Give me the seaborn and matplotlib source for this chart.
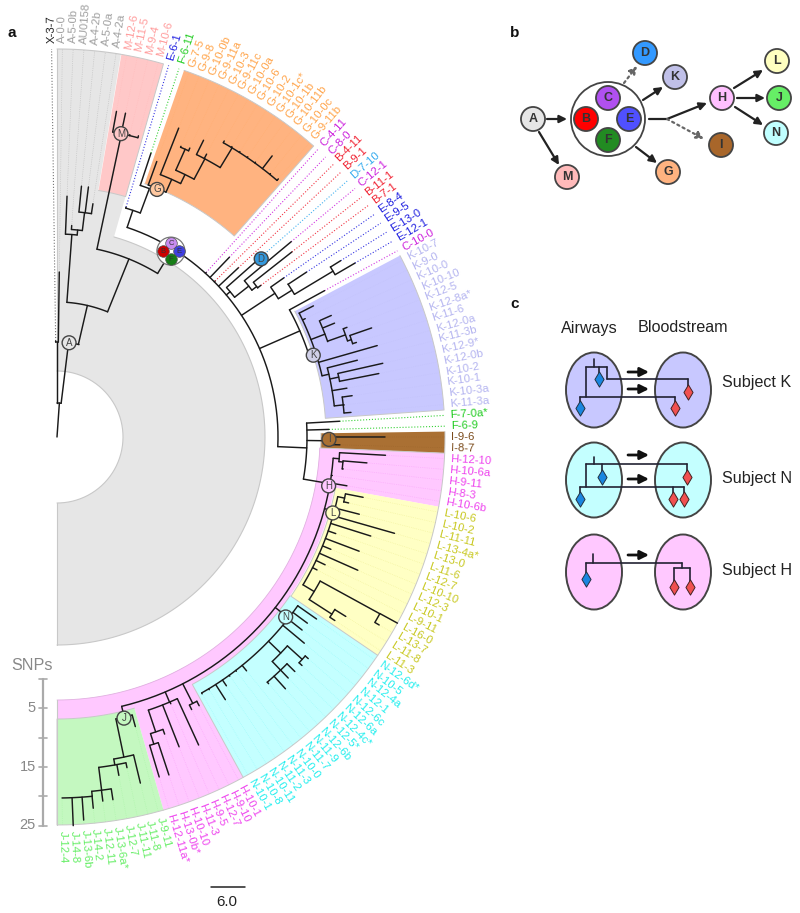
import numpy as np
import pandas as pd
import seaborn as sns
import matplotlib.pyplot as plt
from matplotlib.patches import Ellipse

# panel a: tips run clockwise from 12 o'clock
LABELS = ['X-3-7', 'A-0-0', 'A-5-0b', 'AU0158', 'A-4-2b', 'A-5-0a', 'A-4-2a',
          'M-12-6', 'M-11-5', 'M-9-4', 'M-10-6', 'E-6-1', 'F-6-11',
          'G-7-5', 'G-9-8', 'G-10-0b', 'G-9-11a', 'G-10-3', 'G-9-11c', 'G-10-0a',
          'G-10-6', 'G-10-2', 'G-10-1c*', 'G-10-1b', 'G-10-11b', 'G-10-0c', 'G-9-11b',
          'C-4-11', 'C-8-0', 'B-4-11', 'B-9-1', 'D-7-10', 'C-12-1', 'B-11-1', 'B-7-1',
          'E-8-4', 'E-9-5', 'E-13-0', 'E-12-1', 'C-10-0',
          'K-10-7', 'K-9-0', 'K-10-0', 'K-10-10', 'K-12-5', 'K-12-8a*', 'K-11-6', 'K-12-0a',
          'K-11-3b', 'K-12-9*', 'K-12-0b', 'K-10-2', 'K-10-1', 'K-10-3a', 'K-11-3a',
          'F-7-0a*', 'F-6-9', 'I-9-6', 'I-8-7',
          'H-12-10', 'H-10-6a', 'H-9-11', 'H-8-3', 'H-10-6b',
          'L-10-6', 'L-10-2', 'L-11-11', 'L-13-4a*', 'L-13-0', 'L-11-6', 'L-12-7', 'L-10-10',
          'L-12-3', 'L-10-1', 'L-9-11', 'L-16-0', 'L-13-7', 'L-11-8', 'L-11-3',
          'N-12-6d*', 'N-10-5', 'N-12-4a', 'N-12-1', 'N-12-6c', 'N-12-6a', 'N-12-4c*', 'N-12-5*',
          'N-12-6b', 'N-11-9', 'N-11-7', 'N-10-0', 'N-11-3', 'N-11-2', 'N-10-11', 'N-10-8', 'N-10-1',
          'H-10-1', 'H-9-10', 'H-12-7', 'H-9-5', 'H-11-3', 'H-10-10', 'H-13-0b*', 'H-12-11a*',
          'J-9-11', 'J-11-8', 'J-11-11', 'J-12-7', 'J-13-6a*', 'J-12-11', 'J-14-2', 'J-13-6b',
          'J-14-8', 'J-12-4']

# radius where each tip branch starts and ends
TIP_BASE = [95, 95, 203, 208, 226, 226, 226, 310, 310, 310, 310, 239, 265, 268, 282, 315, 315, 315, 315,
            338, 338, 338, 338, 338, 338, 338, 338, 221, 221, 221, 221, 226, 244, 250, 250, 261, 277, 322, 322,
            265, 272, 272, 288, 288, 306, 310, 310, 272, 279, 288, 288, 279, 288, 288, 288, 250, 250, 276, 276,
            283, 287, 287, 277, 277, 294, 294, 287, 287, 287, 287, 287, 287, 287, 287, 287, 368, 368, 327, 327,
            294, 294, 294, 294, 331, 331, 323, 323, 323, 323, 294, 294, 294, 294, 294, 294, 294,
            299, 299, 288, 288, 288, 311, 322, 322, 288, 327, 333, 333, 356, 356, 361, 361, 361, 361]
TIP_END = [96, 165, 241, 212, 252, 252, 236, 331, 331, 311, 312, 240, 299, 293, 332, 316, 318, 331, 320,
           340, 339, 339, 339, 339, 354, 339, 340, 222, 249, 222, 248, 271, 305, 299, 254, 277, 299, 334, 345,
           305, 288, 275, 300, 300, 310, 333, 314, 333, 310, 334, 328, 294, 298, 289, 295, 283, 272, 328, 283,
           329, 311, 288, 278, 294, 312, 299, 312, 351, 329, 295, 323, 296, 329, 297, 292, 388, 373, 340, 333,
           317, 312, 312, 322, 335, 335, 334, 334, 340, 325, 301, 295, 295, 301, 312, 295, 295,
           304, 304, 339, 290, 333, 316, 356, 355, 300, 356, 338, 344, 367, 367, 373, 384, 389, 361]

# inner branches: angle, radius in, radius out
STEMS = [(4, 0, 34), (0, 34, 95), (7, 34, 95), (13, 95, 135), (4.2, 135, 203), (5.7, 203, 208), (7, 208, 226),
         (22, 135, 192), (12, 192, 310), (31.6, 192, 221), (18.5, 221, 239), (20.4, 239, 265), (22, 265, 268),
         (24, 268, 282), (26, 282, 292), (24, 292, 315), (28, 292, 315), (31.2, 315, 338), (50, 221, 226),
         (51.8, 226, 244), (53, 244, 250), (56.6, 221, 261), (58, 261, 277), (59, 277, 322), (66.4, 221, 265),
         (72.3, 265, 272), (69, 272, 287), (70.5, 287, 306), (71.7, 306, 310), (77, 272, 279), (78, 279, 288),
         (83.6, 279, 288), (92.5, 221, 250), (90.8, 250, 276), (99.7, 250, 277), (94.4, 277, 283), (95, 283, 287),
         (105, 277, 287), (102, 287, 294), (121, 287, 300), (118.7, 300, 368), (122.8, 300, 327), (128, 277, 294),
         (134, 294, 311), (132.2, 311, 331), (136.2, 311, 323), (153, 277, 299), (157, 277, 288), (161.5, 288, 311),
         (162.5, 311, 322), (166.5, 277, 288), (168.2, 288, 327), (170, 327, 333), (172.8, 333, 356), (174.4, 356, 361)]

# arcs joining branches: radius, angle from, angle to
ARCS = [(34, 0, 7), (95, -0.8, 0.8), (95, 7, 13.4), (135, 4.2, 22), (203, 2.4, 5.7), (208, 4, 7), (226, 5.6, 8.8),
        (192, 12, 31.6), (310, 10.35, 15.1), (221, 18.5, 92.5), (239, 16.7, 20.4), (265, 18.3, 22), (268, 19.9, 24),
        (282, 21.5, 26), (292, 24, 28), (315, 23.1, 24.7), (315, 26.3, 31.2), (338, 29.5, 40.6), (226, 48.7, 51.8),
        (244, 50.2, 53), (250, 51.8, 53.4), (261, 55.1, 58), (277, 56.5, 59), (322, 58.1, 59.7), (265, 61.3, 72.3),
        (272, 62.9, 77), (287, 66.1, 70.6), (306, 69.3, 71.7), (310, 70.9, 72.5), (279, 75.7, 83.6), (288, 77.3, 78.9),
        (288, 82, 85.2), (250, 86.8, 99.7), (276, 90, 91.6), (277, 94.4, 166.5), (283, 93.2, 95), (287, 94.8, 96.4),
        (287, 102, 121), (294, 101.2, 102.8), (300, 118.7, 122.8), (368, 118.7, 120.2), (327, 121.8, 123.4),
        (294, 125, 150.5), (311, 132.2, 136.2), (331, 131.4, 133), (323, 134.6, 139.4), (299, 152.1, 153.7),
        (288, 155.3, 161.5), (311, 160.1, 162.5), (322, 161.7, 163.3), (288, 164.9, 168.2), (327, 166.5, 170),
        (333, 168.1, 172.8), (356, 171.3, 174.4), (361, 174.4, 179.2)]

# shaded clades: first tip, last tip, inner radius, radius the outline starts at, colour
CLADES = [(7, 10, 250, 250, '#ffc8c8'), (13, 26, 268, 268, '#ffb380'), (40, 54, 269, 269, '#c8c8ff'),
          (57, 58, 264, 264, '#aa7033'), (59, 63, 263, 282, '#ffc8ff'), (64, 78, 283, 283, '#ffffc4'),
          (79, 95, 282, 282, '#c4ffff'), (96, 103, 263, 282, '#ffc8ff'), (104, 113, 282, 282, '#c4f8c0')]

# clade node markers: letter, angle, radius, colour
NODE_NAMES = ['A', 'M', 'G', 'D', 'K', 'I', 'H', 'L', 'N', 'J']
NODE_ANGLE = [7.3, 11.9, 22, 48.9, 72.3, 90.5, 100.2, 105.4, 128.2, 166.6]
NODE_RADIUS = [95, 310, 267, 271, 269, 272, 276, 286, 291, 289]
NODE_FILL = ['#e6e6e6', '#ffc8c8', '#ffc8a0', '#3399dd', '#d0d0e8', '#aa7033', '#ffc8ff', '#ffffc4', '#c4ffff', '#c4f8c0']

TEXT_COLOURS = {'X': '#222222', 'A': '#a0a0a0', 'M': '#ff9c9c', 'E': '#2020e0', 'F': '#22cc22', 'G': '#ffa348',
                'C': '#cc22dd', 'B': '#f02030', 'D': '#33aaee', 'K': '#b4b4f0', 'I': '#7a4a1a', 'H': '#ee44ee',
                'L': '#c8c820', 'N': '#22eeee', 'J': '#66ee66'}

SNP_TICKS = [0, 5, 10, 15, 20, 25]

# panel b
B_NAMES = ['A', 'M', 'C', 'B', 'E', 'F', 'D', 'K', 'G', 'H', 'I', 'L', 'J', 'N']
B_X = [533, 567, 608, 586, 629, 608, 645, 675, 668, 722, 721, 777, 779, 776]
B_Y = [119, 177, 98, 119, 119, 140, 53, 77, 172, 98, 145, 61, 98, 133]
B_FILL = ['#e6e6e6', '#ffbaba', '#b050f0', '#ff0000', '#5050ff', '#228b22', '#3399ff', '#c0c0e8', '#ffb380',
          '#ffc0ff', '#a8662a', '#ffffc0', '#66ee66', '#c0ffff']
B_ARROWS = [(547, 119, 567, 119, '-'), (539, 132, 559, 165, '-'), (624, 83, 637, 66, ':'), (643, 100, 663, 87, '-'),
            (636, 147, 657, 163, '-'), (667, 119, 707, 103, '-'), (667, 119, 704, 139, ':'), (734, 88, 763, 70, '-'),
            (737, 98, 765, 98, '-'), (735, 107, 763, 125, '-')]

# panel c
SUBJECTS = ['Subject K', 'Subject N', 'Subject H']
SUBJECT_Y = [390, 480, 572]
SUBJECT_TEXT_Y = [382, 479, 571]
SUBJECT_FILL = ['#c8c8ff', '#c4ffff', '#ffc8ff']
C_ARROW_Y = [372, 389, 455, 479, 555]
C_LINES = [(594, 359, 594, 367), (586, 367, 607, 367), (586, 367, 586, 397), (607, 367, 607, 379), (607, 379, 688, 379),
           (688, 379, 688, 387), (580, 397, 675, 397), (580, 397, 580, 403), (675, 397, 675, 403), (599, 367, 599, 373),
           (594, 457, 594, 464), (586, 464, 687, 464), (586, 464, 586, 487), (580, 487, 684, 487), (602, 464, 602, 472),
           (687, 464, 687, 472), (580, 487, 580, 493), (673, 487, 673, 493), (684, 487, 684, 493),
           (593, 554, 593, 563), (586, 563, 682, 563), (586, 563, 586, 573), (682, 563, 682, 568), (674, 568, 690, 568),
           (674, 568, 674, 582), (690, 568, 690, 582)]
BLUE_X = [599, 580, 602, 580, 586]
BLUE_Y = [379, 408, 477, 499, 579]
RED_X = [688, 675, 687, 673, 684, 674, 690]
RED_Y = [392, 408, 477, 499, 499, 587, 587]

CX, CY, R = 57, 437, 388
STEP = 180 / 113


def polar(theta, r):
    t = np.radians(theta)
    return CX + r * np.sin(t), CY - r * np.cos(t)


def tip_angle(i):
    return -0.8 + STEP * i


def sector(t0, t1, r0, r1):
    t = np.linspace(t0, t1, 80)
    x0, y0 = polar(t, r0)
    x1, y1 = polar(t[::-1], r1)
    return np.r_[x0, x1], np.r_[y0, y1]


sns.set_theme(style='white')
plt.rcParams['font.family'] = ['Liberation Sans', 'DejaVu Sans']

fig = plt.figure(figsize=(8, 9.13), dpi=100)
ax = fig.add_axes([0, 0, 1, 1])

# A clade background
edge = '#c8c8c8'
for t1, r1 in [(180, 208), (15.9, 250), (9.48, R)]:
    x, y = sector(0, t1, 66, r1)
    ax.fill(x, y, color='#e6e6e6', lw=0, zorder=1)
x, y = polar(np.linspace(0, 180, 200), 66)
ax.plot(x, y, color=edge, lw=0.8, zorder=1.2)
x, y = polar(np.linspace(15.9, 180, 200), 208)
ax.plot(x, y, color=edge, lw=0.8, zorder=1.2)
x, y = polar(np.linspace(0, 9.48, 30), R)
ax.plot(x, y, color=edge, lw=0.8, zorder=1.2)
ax.plot([CX, CX], [CY - R, CY - 66], color=edge, lw=0.8, zorder=1.2)
ax.plot([CX, CX], [CY + 66, CY + 208], color=edge, lw=0.8, zorder=1.2)

# band under H, then the other clades
x, y = sector(tip_angle(58.5), 180, 263, 282)
ax.fill(x, y, color='#ffc8ff', lw=0, zorder=1.1)
x, y = polar(np.linspace(tip_angle(58.5), 180, 200), 263)
ax.plot(x, y, color='#e0b0e0', lw=0.6, zorder=1.4)
for first, last, r0, r_line, colour in CLADES:
    x, y = sector(tip_angle(first - 0.5), tip_angle(last + 0.5), r0, R)
    ax.fill(x, y, color=colour, lw=0, zorder=1.3)
    x, y = sector(tip_angle(first - 0.5), tip_angle(last + 0.5), r_line, R)
    if r_line != r0:
        # side and outer edges only, the pink runs on into the band
        x, y = x[80:], y[80:]
    ax.plot(x, y, color=edge, lw=0.7, zorder=1.4)
ax.plot([CX, CX], [CY + 263, CY + R], color=edge, lw=0.8, zorder=1.4)

# dotted leader lines and tip labels
free = [0, 11, 12] + list(range(27, 40)) + [55, 56]
for i, name in enumerate(LABELS):
    t = tip_angle(i)
    colour = TEXT_COLOURS[name[0]]
    x, y = polar(t, np.array([TIP_END[i], R]))
    if i in free:
        alpha = 0.9
    elif name[0] == 'A':
        alpha = 0.6
    else:
        alpha = 0.25
    ax.plot(x, y, ls=':', color=colour if name[0] != 'X' else '#666666',
            lw=0.8 if i in free else 0.5, alpha=alpha, zorder=2)
    tx, ty = polar(t, 394)
    ax.text(tx, ty, name, color=colour, fontsize=8.2, rotation=90 - t, rotation_mode='anchor',
            ha='left', va='center', zorder=5)

# tree branches
rows = []
for theta, r0, r1 in STEMS + [(tip_angle(i), TIP_BASE[i], TIP_END[i]) for i in range(len(LABELS))]:
    x, y = polar(theta, np.array([r0, r1]))
    rows.append(pd.DataFrame({'x': x, 'y': y}))
for r, t0, t1 in ARCS:
    x, y = polar(np.linspace(t0, t1, 40), r)
    rows.append(pd.DataFrame({'x': x, 'y': y}))
branches = pd.concat(rows, keys=range(len(rows)), names=['seg', 'n']).reset_index()
sns.lineplot(data=branches, x='x', y='y', units='seg', estimator=None, sort=False, color='#1a1a1a',
             lw=1.05, legend=False, ax=ax, zorder=3)

# clade markers on the tree
nx, ny = polar(np.array(NODE_ANGLE), np.array(NODE_RADIUS))
sns.scatterplot(x=nx, y=ny, s=100, c=NODE_FILL, edgecolor='#444444', linewidth=1.0, ax=ax, zorder=4, legend=False)
for name, px, py in zip(NODE_NAMES, nx, ny):
    ax.text(px, py, name, fontsize=7, color='#444444', ha='center', va='center', zorder=5)

# the B/C/E/F group
gx, gy = polar(31.5, 218)
ax.add_patch(plt.Circle((gx, gy), 14, fc='white', ec='#777777', lw=0.9, zorder=4))
for name, dx, dy, colour in [('C', 0, -8, '#c88cf0'), ('B', -8, 0, '#cc0000'), ('E', 8, 0, '#3f3fe0'), ('F', 0, 8, '#167d16')]:
    ax.scatter(gx + dx, gy + dy, s=70, color=colour, edgecolor='#555555', linewidth=0.5, zorder=4.5)
    ax.text(gx + dx, gy + dy, name, fontsize=5.5, color='#333333', ha='center', va='center', zorder=5)

# SNP axis and scale bar
snp_y = [679 + s * 5.87 for s in SNP_TICKS]
ax.plot([43, 43], [snp_y[0], snp_y[-1]], color='#aaaaaa', lw=1.6, zorder=3)
for s, y in zip(SNP_TICKS, snp_y):
    ax.plot([38.5, 47], [y, y], color='#aaaaaa', lw=1.2, zorder=3)
    if s % 10 == 5:
        ax.text(36, y - 1 if s == 25 else y, str(s), color='#888888', fontsize=10.5, ha='right', va='center')
ax.text(32, 665, 'SNPs', color='#888888', fontsize=11.6, ha='center', va='center')
ax.plot([211, 245], [887, 887], color='#222222', lw=1.1)
ax.text(227, 902, '6.0', color='#222222', fontsize=10.8, ha='center', va='center')

# panel b
ax.add_patch(plt.Circle((608, 119), 37, fc='white', ec='#444444', lw=1.3, zorder=2))
ax.plot([649, 667], [119, 119], color='#222222', lw=1.6, zorder=2)
for x0, y0, x1, y1, style in B_ARROWS:
    colour = '#222222' if style == '-' else '#666666'
    ax.annotate('', xy=(x1, y1), xytext=(x0, y0), zorder=2,
                arrowprops=dict(arrowstyle='-|>', color=colour, lw=1.6, ls=style, shrinkA=0, shrinkB=0, mutation_scale=11))
sns.scatterplot(x=B_X, y=B_Y, s=300, c=B_FILL, edgecolor='#444444', linewidth=1.3, ax=ax, zorder=3, legend=False)
for name, px, py in zip(B_NAMES, B_X, B_Y):
    ax.text(px, py, name, fontsize=9, fontweight='bold', color='#333333', ha='center', va='center', zorder=5)

# panel c
ax.text(589, 328, 'Airways', fontsize=11.6, color='#222222', ha='center', va='center')
ax.text(683, 328, 'Bloodstream', fontsize=11.6, color='#222222', ha='center', va='center')
for name, y, ty, colour in zip(SUBJECTS, SUBJECT_Y, SUBJECT_TEXT_Y, SUBJECT_FILL):
    for x in [594, 683]:
        ax.add_patch(Ellipse((x, y), 56, 75, fc=colour, ec='#444444', lw=1.4, zorder=2))
    ax.text(722, ty, name, fontsize=11.6, color='#222222', va='center')
rows = [pd.DataFrame({'x': [a, c], 'y': [b, d]}) for a, b, c, d in C_LINES]
links = pd.concat(rows, keys=range(len(rows)), names=['seg', 'n']).reset_index()
sns.lineplot(data=links, x='x', y='y', units='seg', estimator=None, sort=False, color='#222233',
             lw=1.2, legend=False, ax=ax, zorder=3)
for y in C_ARROW_Y:
    ax.annotate('', xy=(649, y), xytext=(628, y), zorder=3,
                arrowprops=dict(arrowstyle='-|>', color='#111111', lw=2, shrinkA=0, shrinkB=0, mutation_scale=13))
sns.scatterplot(x=BLUE_X, y=BLUE_Y, marker='d', s=60, color='#1a86e0', edgecolor='#223344', linewidth=0.7, ax=ax, zorder=4)
sns.scatterplot(x=RED_X, y=RED_Y, marker='d', s=60, color='#f05050', edgecolor='#442222', linewidth=0.7, ax=ax, zorder=4)

for name, x, y in [('a', 12, 33), ('b', 515, 33), ('c', 515, 304)]:
    ax.text(x, y, name, fontsize=11, fontweight='bold', color='#111111', ha='center', va='center')

ax.set_xlim(0, 800)
ax.set_ylim(913, 0)
ax.axis('off')
fig.savefig('out.png', dpi=100)
